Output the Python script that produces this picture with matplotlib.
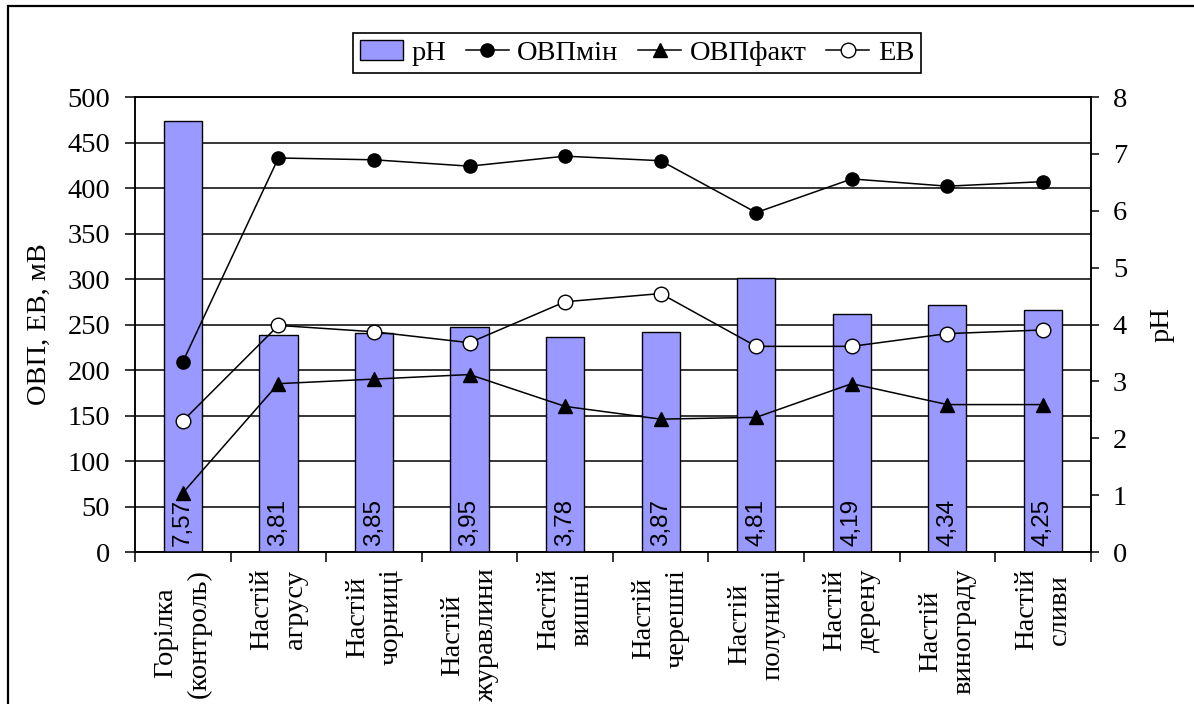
import matplotlib
matplotlib.use("Agg")
import matplotlib.pyplot as plt
from matplotlib.patches import Rectangle, Patch
from matplotlib.lines import Line2D
from matplotlib.ticker import MultipleLocator, FixedLocator

# data
categories = ["Горілка\n(контроль)", "Настій\nагрусу", "Настій\nчорниці",
              "Настій\nжуравлини", "Настій\nвишні", "Настій\nчерешні",
              "Настій\nполуниці", "Настій\nдерену", "Настій\nвинограду",
              "Настій\nсливи"]
ph = [7.57, 3.81, 3.85, 3.95, 3.78, 3.87, 4.81, 4.19, 4.34, 4.25]
ovp_min = [209, 433, 431, 424, 435, 430, 373, 410, 402, 407]
ovp_fact = [65, 185, 190, 195, 160, 146, 148, 185, 162, 162]
ev = [144, 249, 242, 230, 275, 284, 226, 226, 240, 244]

plt.rcParams['font.family'] = ['Liberation Serif', 'DejaVu Serif']
fs = 20.5
lw = 1.1

fig = plt.figure(figsize=(11.94, 7.04), dpi=100)
ax = fig.add_axes([0.1131, 0.2159, 0.8004, 0.6463])
x = list(range(len(categories)))

# left axis: grid + ticks
ax.set_xlim(-0.5, len(categories) - 0.5)
ax.set_ylim(0, 500)
ax.yaxis.set_major_locator(MultipleLocator(50))
ax.grid(axis='y', color='black', linewidth=lw)
ax.set_axisbelow(True)
ax.tick_params(axis='y', direction='out', length=7, width=lw, pad=11,
               labelsize=fs)
ax.xaxis.set_major_locator(FixedLocator([i - 0.5 for i in range(len(categories) + 1)]))
ax.xaxis.set_minor_locator(FixedLocator(x))
ax.tick_params(axis='x', which='major', direction='out', length=7, width=lw,
               labelbottom=False)
ax.tick_params(axis='x', which='minor', length=0, pad=12)
ax.set_xticklabels(categories, minor=True, rotation=90, fontsize=fs,
                   ha='center', va='top', linespacing=1.45,
                   multialignment='center')
ax.set_ylabel('ОВП, ЕВ, мВ', fontsize=fs)
ax.yaxis.set_label_coords(-0.087, 0.5)
for s in ax.spines.values():
    s.set_linewidth(lw)

# right axis: pH bars
ax2 = ax.twinx()
ax2.set_ylim(0, 8)
ax2.yaxis.set_major_locator(MultipleLocator(1))
ax2.bar(x, ph, width=0.4, color='#9999FF', edgecolor='black', linewidth=1.0)
ax2.tick_params(axis='y', direction='out', length=6, width=lw, pad=10,
                labelsize=fs)
ax2.set_ylabel('pH', fontsize=fs)
ax2.yaxis.set_label_coords(1.062, 0.5)
for s in ax2.spines.values():
    s.set_linewidth(lw)
for i, v in zip(x, ph):
    ax2.annotate(f"{v:.2f}".replace('.', ','), xy=(i, 0), xytext=(0, 4),
                 textcoords='offset points', rotation=90, ha='center',
                 va='bottom', fontsize=17.5, family='Liberation Sans')

# lines on top, same scale as the left axis
ax3 = ax.twinx()
ax3.set_ylim(0, 500)
ax3.axis('off')
ax3.plot(x, ovp_min, color='black', linewidth=lw, marker='o', markersize=9.5,
         markerfacecolor='black', markeredgecolor='black')
ax3.plot(x, ovp_fact, color='black', linewidth=lw, marker='^', markersize=10,
         markerfacecolor='black', markeredgecolor='black')
ax3.plot(x, ev, color='black', linewidth=lw, marker='o', markersize=10.5,
         markerfacecolor='white', markeredgecolor='black', markeredgewidth=1.0)

handles = [
    Patch(facecolor='#9999FF', edgecolor='black', linewidth=1.0),
    Line2D([], [], color='black', linewidth=lw, marker='o', markersize=9.5),
    Line2D([], [], color='black', linewidth=lw, marker='^', markersize=10),
    Line2D([], [], color='black', linewidth=lw, marker='o', markersize=10.5,
           markerfacecolor='white', markeredgecolor='black'),
]
leg = fig.legend(handles, ['pH', 'ОВПмін', 'ОВПфакт', 'ЕВ'], loc='center',
                 bbox_to_anchor=(0.5335, 0.9247), ncol=4, fancybox=False,
                 edgecolor='black', framealpha=1, handlelength=1.5,
                 handletextpad=0.3, columnspacing=0.7, borderpad=0.25,
                 fontsize=fs)
leg.get_frame().set_linewidth(1.2)

# chart-area border (runs off the right and bottom of the picture)
fig.add_artist(Rectangle((0.0063, -0.1), 1.2, 1.0915, transform=fig.transFigure,
                         fill=False, edgecolor='black', linewidth=1.6,
                         clip_on=False))

fig.savefig('out.png', dpi=100)
